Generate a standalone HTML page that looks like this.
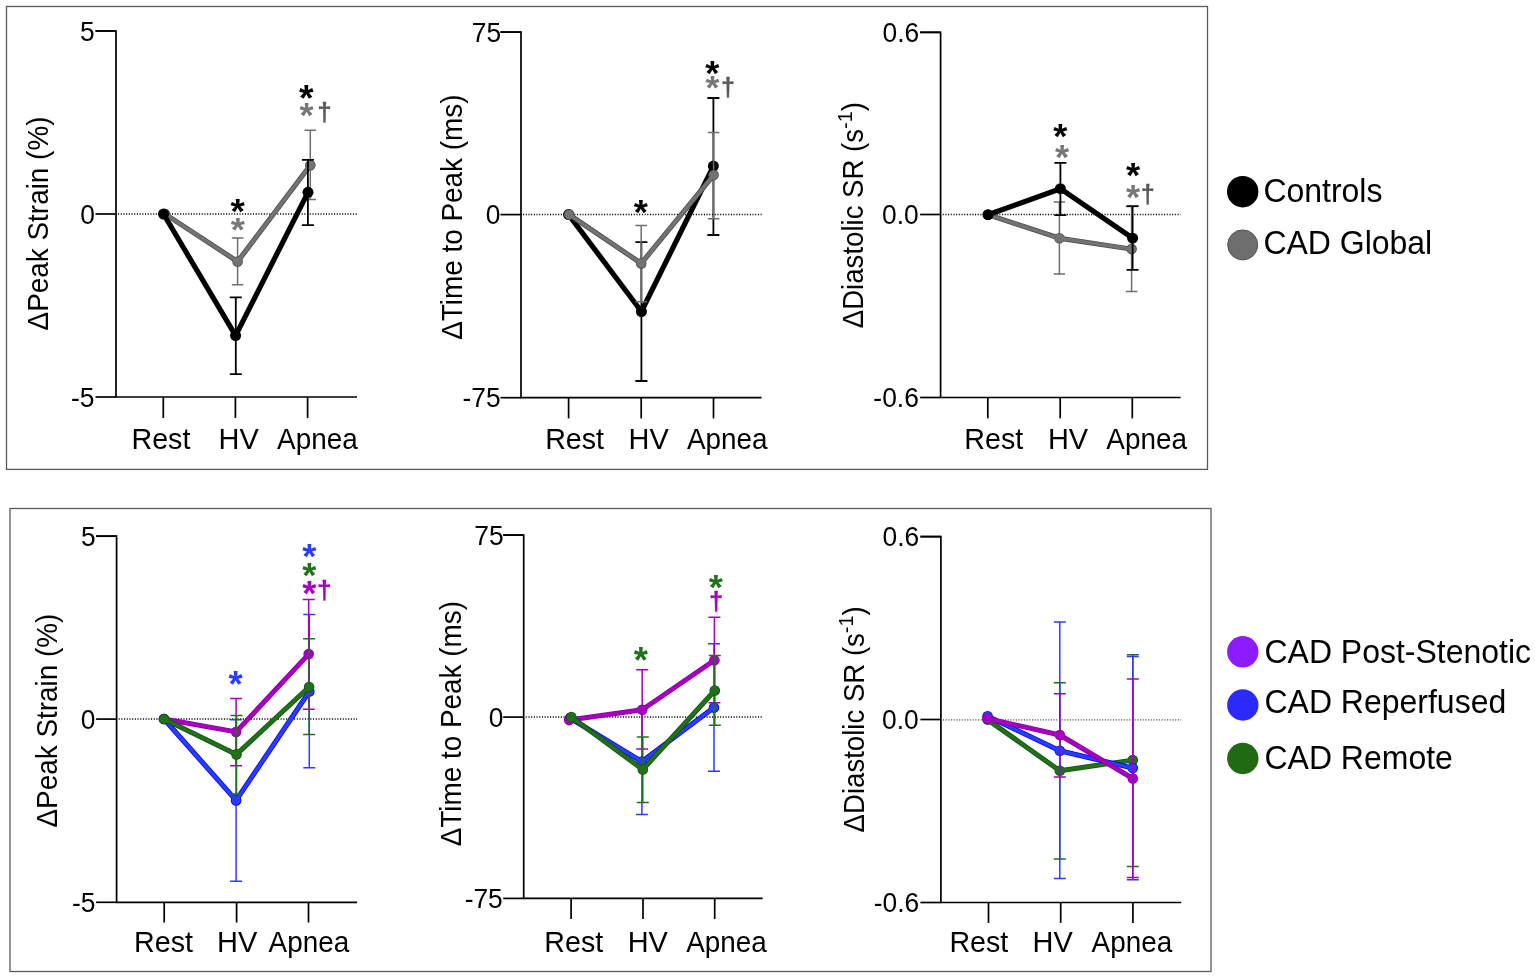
<!DOCTYPE html><html><head><meta charset="utf-8"><title>Figure</title><style>html,body{margin:0;padding:0;background:#fff;}svg{display:block;}text{font-family:"Liberation Sans",Arial,sans-serif;}</style></head><body>
<svg width="1535" height="978" viewBox="0 0 1535 978">
<rect width="1535" height="978" fill="#fff"/>
<rect x="6.5" y="6.5" width="1201" height="462.9" fill="none" stroke="#5a5a5a" stroke-width="1.3"/>
<rect x="10" y="508.5" width="1201" height="463" fill="none" stroke="#5a5a5a" stroke-width="1.3"/>
<path d="M95.50 31.00 H116.00 V397.00 H357.00" fill="none" stroke="#000" stroke-width="1.70"/>
<path d="M95.50 31.00 H116.00" stroke="#000" stroke-width="1.70"/>
<path d="M95.50 214.00 H116.00" stroke="#000" stroke-width="1.70"/>
<path d="M95.50 397.00 H116.00" stroke="#000" stroke-width="1.70"/>
<path d="M163.30 397.00 V418.00" stroke="#000" stroke-width="1.70"/>
<path d="M235.40 397.00 V418.00" stroke="#000" stroke-width="1.70"/>
<path d="M307.60 397.00 V418.00" stroke="#000" stroke-width="1.70"/>
<path d="M118.00 214.00 H357.00" stroke="#000" stroke-width="1.50" stroke-dasharray="1.1 1.6"/>
<text x="0" y="0" transform="translate(79.93 40.55) scale(1 1.030)" font-size="26.40" fill="#000">5</text>
<text x="0" y="0" transform="translate(80.15 223.55) scale(1 1.030)" font-size="26.40" fill="#000">0</text>
<text x="0" y="0" transform="translate(70.93 406.55) scale(1 1.030)" font-size="26.40" fill="#000">-5</text>
<text x="0" y="0" transform="translate(131.46 449.30) scale(1 1.060)" font-size="28.66" fill="#000">Rest</text>
<text x="0" y="0" transform="translate(218.60 449.30) scale(1 1.049)" font-size="28.97" fill="#000">HV</text>
<text x="0" y="0" transform="translate(277.08 449.30) scale(1 1.089)" font-size="27.90" fill="#000">Apnea</text>
<g transform="translate(48.00 330.43) rotate(-90) scale(1 1.040)">
<text x="0" y="0" font-size="27.90" fill="#000"><tspan>ΔPeak Strain (%)</tspan></text>
</g>
<path d="M237.60 238.10 V284.70 M231.85 238.10 h11.50 M231.85 284.70 h11.50" stroke="#6e6e6e" stroke-width="1.50" fill="none"/>
<path d="M310.30 130.30 V199.40 M304.55 130.30 h11.50 M304.55 199.40 h11.50" stroke="#6e6e6e" stroke-width="1.50" fill="none"/>
<path d="M165.00 214.00 L237.60 261.60 L310.30 165.30" stroke="#4a4a4a" stroke-width="5.00" fill="none" stroke-linejoin="round"/>
<circle cx="165.00" cy="214.00" r="5.30" fill="#4a4a4a"/>
<circle cx="237.60" cy="261.60" r="5.30" fill="#4a4a4a"/>
<circle cx="310.30" cy="165.30" r="5.30" fill="#4a4a4a"/>
<path d="M165.00 214.00 L237.60 261.60 L310.30 165.30" stroke="#737373" stroke-width="3.50" fill="none" stroke-linejoin="round"/>
<circle cx="165.00" cy="214.00" r="4.55" fill="#737373"/>
<circle cx="237.60" cy="261.60" r="4.55" fill="#737373"/>
<circle cx="310.30" cy="165.30" r="4.55" fill="#737373"/>
<path d="M235.80 297.40 V374.10 M229.80 297.40 h12.00 M229.80 374.10 h12.00" stroke="#000" stroke-width="1.80" fill="none"/>
<path d="M307.90 159.80 V225.10 M301.90 159.80 h12.00 M301.90 225.10 h12.00" stroke="#000" stroke-width="1.80" fill="none"/>
<path d="M163.50 214.00 L235.60 335.60 L308.00 192.30" stroke="#000" stroke-width="5.20" fill="none" stroke-linejoin="round"/>
<circle cx="163.50" cy="214.00" r="5.50" fill="#000"/>
<circle cx="235.60" cy="335.60" r="5.50" fill="#000"/>
<circle cx="308.00" cy="192.30" r="5.50" fill="#000"/>
<text x="0" y="0" transform="translate(230.59 222.65) scale(1 0.941)" font-size="36.86" font-weight="bold" fill="#000">*</text>
<text x="0" y="0" transform="translate(230.79 240.61) scale(1 0.924)" font-size="36.34" font-weight="bold" fill="#777">*</text>
<text x="0" y="0" transform="translate(299.09 110.65) scale(1 0.978)" font-size="37.38" font-weight="bold" fill="#000">*</text>
<text x="0" y="0" transform="translate(299.39 126.89) scale(1 0.984)" font-size="36.34" font-weight="bold" fill="#777">*</text>
<text x="0" y="0" transform="translate(317.14 120.66) scale(1 0.988)" font-size="26.07" font-weight="bold" fill="#5a5a5a" stroke="#5a5a5a" stroke-width="0.30">†</text>
<path d="M500.50 32.10 H521.00 V397.70 H761.60" fill="none" stroke="#000" stroke-width="1.70"/>
<path d="M500.50 32.10 H521.00" stroke="#000" stroke-width="1.70"/>
<path d="M500.50 214.60 H521.00" stroke="#000" stroke-width="1.70"/>
<path d="M500.50 397.70 H521.00" stroke="#000" stroke-width="1.70"/>
<path d="M568.60 397.70 V418.40" stroke="#000" stroke-width="1.70"/>
<path d="M641.20 397.70 V418.40" stroke="#000" stroke-width="1.70"/>
<path d="M713.50 397.70 V418.40" stroke="#000" stroke-width="1.70"/>
<path d="M523.00 214.60 H761.60" stroke="#000" stroke-width="1.50" stroke-dasharray="1.1 1.6"/>
<text x="0" y="0" transform="translate(471.84 41.65) scale(1 1.030)" font-size="26.40" fill="#000">75</text>
<text x="0" y="0" transform="translate(485.85 224.15) scale(1 1.030)" font-size="26.40" fill="#000">0</text>
<text x="0" y="0" transform="translate(462.55 407.25) scale(1 1.030)" font-size="26.40" fill="#000">-75</text>
<text x="0" y="0" transform="translate(545.16 449.20) scale(1 1.060)" font-size="28.66" fill="#000">Rest</text>
<text x="0" y="0" transform="translate(628.50 449.20) scale(1 1.049)" font-size="28.97" fill="#000">HV</text>
<text x="0" y="0" transform="translate(686.98 449.20) scale(1 1.089)" font-size="27.90" fill="#000">Apnea</text>
<g transform="translate(461.50 339.83) rotate(-90) scale(1 1.040)">
<text x="0" y="0" font-size="27.90" fill="#000"><tspan>ΔTime to Peak (ms)</tspan></text>
</g>
<path d="M641.40 242.10 V381.00 M635.40 242.10 h12.00 M635.40 381.00 h12.00" stroke="#000" stroke-width="1.80" fill="none"/>
<path d="M713.40 98.00 V235.00 M707.40 98.00 h12.00 M707.40 235.00 h12.00" stroke="#000" stroke-width="1.80" fill="none"/>
<path d="M568.60 214.60 L641.40 311.50 L713.40 166.10" stroke="#000" stroke-width="5.20" fill="none" stroke-linejoin="round"/>
<circle cx="568.60" cy="214.60" r="5.50" fill="#000"/>
<circle cx="641.40" cy="311.50" r="5.50" fill="#000"/>
<circle cx="713.40" cy="166.10" r="5.50" fill="#000"/>
<path d="M641.20 225.40 V301.70 M635.45 225.40 h11.50 M635.45 301.70 h11.50" stroke="#6e6e6e" stroke-width="1.50" fill="none"/>
<path d="M713.60 132.40 V218.70 M707.85 132.40 h11.50 M707.85 218.70 h11.50" stroke="#6e6e6e" stroke-width="1.50" fill="none"/>
<path d="M569.20 214.60 L641.20 263.40 L713.60 175.10" stroke="#4a4a4a" stroke-width="5.00" fill="none" stroke-linejoin="round"/>
<circle cx="569.20" cy="214.60" r="5.30" fill="#4a4a4a"/>
<circle cx="641.20" cy="263.40" r="5.30" fill="#4a4a4a"/>
<circle cx="713.60" cy="175.10" r="5.30" fill="#4a4a4a"/>
<path d="M569.20 214.60 L641.20 263.40 L713.60 175.10" stroke="#737373" stroke-width="3.50" fill="none" stroke-linejoin="round"/>
<circle cx="569.20" cy="214.60" r="4.55" fill="#737373"/>
<circle cx="641.20" cy="263.40" r="4.55" fill="#737373"/>
<circle cx="713.60" cy="175.10" r="4.55" fill="#737373"/>
<text x="0" y="0" transform="translate(633.69 223.67) scale(1 0.947)" font-size="36.34" font-weight="bold" fill="#000">*</text>
<text x="0" y="0" transform="translate(705.29 84.85) scale(1 0.954)" font-size="36.34" font-weight="bold" fill="#000">*</text>
<text x="0" y="0" transform="translate(705.50 99.04) scale(1 0.923)" font-size="35.82" font-weight="bold" fill="#777">*</text>
<text x="0" y="0" transform="translate(720.91 95.72) scale(1 0.995)" font-size="25.13" font-weight="bold" fill="#5a5a5a" stroke="#5a5a5a" stroke-width="0.30">†</text>
<path d="M920.10 32.30 H940.60 V397.50 H1180.60" fill="none" stroke="#000" stroke-width="1.70"/>
<path d="M920.10 32.30 H940.60" stroke="#000" stroke-width="1.70"/>
<path d="M920.10 214.50 H940.60" stroke="#000" stroke-width="1.70"/>
<path d="M920.10 397.50 H940.60" stroke="#000" stroke-width="1.70"/>
<path d="M987.80 397.50 V418.40" stroke="#000" stroke-width="1.70"/>
<path d="M1060.20 397.50 V418.40" stroke="#000" stroke-width="1.70"/>
<path d="M1132.30 397.50 V418.40" stroke="#000" stroke-width="1.70"/>
<path d="M942.60 214.50 H1180.60" stroke="#000" stroke-width="1.50" stroke-dasharray="1.1 1.6"/>
<text x="0" y="0" transform="translate(882.46 41.85) scale(1 1.030)" font-size="26.40" fill="#000">0.6</text>
<text x="0" y="0" transform="translate(882.03 224.05) scale(1 1.030)" font-size="26.40" fill="#000">0.0</text>
<text x="0" y="0" transform="translate(873.37 407.05) scale(1 1.030)" font-size="26.40" fill="#000">-0.6</text>
<text x="0" y="0" transform="translate(964.31 448.80) scale(1 1.060)" font-size="28.66" fill="#000">Rest</text>
<text x="0" y="0" transform="translate(1047.90 448.80) scale(1 1.049)" font-size="28.97" fill="#000">HV</text>
<text x="0" y="0" transform="translate(1106.33 448.80) scale(1 1.089)" font-size="27.90" fill="#000">Apnea</text>
<g transform="translate(863.20 328.22) rotate(-90) scale(1 1.040)">
<text x="0" y="0" font-size="27.60" fill="#000"><tspan>ΔDiastolic SR (s</tspan><tspan font-size="19.87" dy="-11.04">-1</tspan><tspan dy="11.04">)</tspan></text>
</g>
<path d="M1059.40 202.00 V274.00 M1053.65 202.00 h11.50 M1053.65 274.00 h11.50" stroke="#6e6e6e" stroke-width="1.50" fill="none"/>
<path d="M1131.60 206.60 V291.60 M1125.85 206.60 h11.50 M1125.85 291.60 h11.50" stroke="#6e6e6e" stroke-width="1.50" fill="none"/>
<path d="M988.00 214.70 L1059.40 238.20 L1131.60 249.10" stroke="#4a4a4a" stroke-width="5.00" fill="none" stroke-linejoin="round"/>
<circle cx="988.00" cy="214.70" r="5.30" fill="#4a4a4a"/>
<circle cx="1059.40" cy="238.20" r="5.30" fill="#4a4a4a"/>
<circle cx="1131.60" cy="249.10" r="5.30" fill="#4a4a4a"/>
<path d="M988.00 214.70 L1059.40 238.20 L1131.60 249.10" stroke="#737373" stroke-width="3.50" fill="none" stroke-linejoin="round"/>
<circle cx="988.00" cy="214.70" r="4.55" fill="#737373"/>
<circle cx="1059.40" cy="238.20" r="4.55" fill="#737373"/>
<circle cx="1131.60" cy="249.10" r="4.55" fill="#737373"/>
<path d="M1060.40 162.80 V215.10 M1054.40 162.80 h12.00 M1054.40 215.10 h12.00" stroke="#000" stroke-width="1.80" fill="none"/>
<path d="M1132.60 206.10 V269.90 M1126.60 206.10 h12.00 M1126.60 269.90 h12.00" stroke="#000" stroke-width="1.80" fill="none"/>
<path d="M988.00 214.70 L1060.40 188.70 L1132.60 238.20" stroke="#000" stroke-width="5.20" fill="none" stroke-linejoin="round"/>
<circle cx="988.00" cy="214.70" r="5.50" fill="#000"/>
<circle cx="1060.40" cy="188.70" r="5.50" fill="#000"/>
<circle cx="1132.60" cy="238.20" r="5.50" fill="#000"/>
<text x="0" y="0" transform="translate(1053.29 148.35) scale(1 0.954)" font-size="36.34" font-weight="bold" fill="#000">*</text>
<text x="0" y="0" transform="translate(1054.89 168.77) scale(1 0.947)" font-size="36.34" font-weight="bold" fill="#777">*</text>
<text x="0" y="0" transform="translate(1125.89 187.17) scale(1 0.947)" font-size="36.34" font-weight="bold" fill="#000">*</text>
<text x="0" y="0" transform="translate(1125.89 208.57) scale(1 0.947)" font-size="36.34" font-weight="bold" fill="#777">*</text>
<text x="0" y="0" transform="translate(1140.71 203.36) scale(1 1.030)" font-size="25.13" font-weight="bold" fill="#5a5a5a" stroke="#5a5a5a" stroke-width="0.30">†</text>
<circle cx="1242.7" cy="191.7" r="15.7" fill="#000"/>
<circle cx="1242.7" cy="244.9" r="15.0" fill="#6e6e6e" stroke="#505050" stroke-width="1"/>
<text x="0" y="0" transform="translate(1263.38 202.20) scale(1 1.040)" font-size="32.00" fill="#000">Controls</text>
<text x="0" y="0" transform="translate(1263.38 253.80) scale(1 1.040)" font-size="32.00" fill="#000">CAD Global</text>
<path d="M96.10 536.20 H116.60 V902.30 H357.10" fill="none" stroke="#000" stroke-width="1.70"/>
<path d="M96.10 536.20 H116.60" stroke="#000" stroke-width="1.70"/>
<path d="M96.10 719.10 H116.60" stroke="#000" stroke-width="1.70"/>
<path d="M96.10 902.30 H116.60" stroke="#000" stroke-width="1.70"/>
<path d="M164.20 902.30 V922.50" stroke="#000" stroke-width="1.70"/>
<path d="M236.60 902.30 V922.50" stroke="#000" stroke-width="1.70"/>
<path d="M308.50 902.30 V922.50" stroke="#000" stroke-width="1.70"/>
<path d="M118.60 719.10 H357.10" stroke="#000" stroke-width="1.50" stroke-dasharray="1.1 1.6"/>
<text x="0" y="0" transform="translate(81.03 545.75) scale(1 1.030)" font-size="26.40" fill="#000">5</text>
<text x="0" y="0" transform="translate(80.85 728.65) scale(1 1.030)" font-size="26.40" fill="#000">0</text>
<text x="0" y="0" transform="translate(72.03 911.85) scale(1 1.030)" font-size="26.40" fill="#000">-5</text>
<text x="0" y="0" transform="translate(134.11 952.30) scale(1 1.060)" font-size="28.66" fill="#000">Rest</text>
<text x="0" y="0" transform="translate(217.00 952.30) scale(1 1.049)" font-size="28.97" fill="#000">HV</text>
<text x="0" y="0" transform="translate(268.53 952.30) scale(1 1.089)" font-size="27.90" fill="#000">Apnea</text>
<g transform="translate(57.20 827.53) rotate(-90) scale(1 1.040)">
<text x="0" y="0" font-size="27.90" fill="#000"><tspan>ΔPeak Strain (%)</tspan></text>
</g>
<path d="M236.10 719.70 V881.20 M230.10 719.70 h12.00 M230.10 881.20 h12.00" stroke="#2a3cff" stroke-width="1.50" fill="none"/>
<path d="M309.30 614.40 V767.70 M303.30 614.40 h12.00 M303.30 767.70 h12.00" stroke="#2a3cff" stroke-width="1.50" fill="none"/>
<path d="M164.00 719.00 L236.10 800.40 L309.30 691.50" stroke="#0000ee" stroke-width="5.00" fill="none" stroke-linejoin="round"/>
<circle cx="164.00" cy="719.00" r="5.30" fill="#0000ee"/>
<circle cx="236.10" cy="800.40" r="5.30" fill="#0000ee"/>
<circle cx="309.30" cy="691.50" r="5.30" fill="#0000ee"/>
<path d="M164.00 719.00 L236.10 800.40 L309.30 691.50" stroke="#2a3cff" stroke-width="3.50" fill="none" stroke-linejoin="round"/>
<circle cx="164.00" cy="719.00" r="4.55" fill="#2a3cff"/>
<circle cx="236.10" cy="800.40" r="4.55" fill="#2a3cff"/>
<circle cx="309.30" cy="691.50" r="4.55" fill="#2a3cff"/>
<path d="M236.10 698.60 V765.70 M230.10 698.60 h12.00 M230.10 765.70 h12.00" stroke="#a600be" stroke-width="1.50" fill="none"/>
<path d="M308.70 599.50 V709.30 M302.70 599.50 h12.00 M302.70 709.30 h12.00" stroke="#a600be" stroke-width="1.50" fill="none"/>
<path d="M164.00 719.00 L236.10 731.90 L308.70 654.10" stroke="#8a00a6" stroke-width="5.00" fill="none" stroke-linejoin="round"/>
<circle cx="164.00" cy="719.00" r="5.30" fill="#8a00a6"/>
<circle cx="236.10" cy="731.90" r="5.30" fill="#8a00a6"/>
<circle cx="308.70" cy="654.10" r="5.30" fill="#8a00a6"/>
<path d="M164.00 719.00 L236.10 731.90 L308.70 654.10" stroke="#a600be" stroke-width="3.50" fill="none" stroke-linejoin="round"/>
<circle cx="164.00" cy="719.00" r="4.55" fill="#a600be"/>
<circle cx="236.10" cy="731.90" r="4.55" fill="#a600be"/>
<circle cx="308.70" cy="654.10" r="4.55" fill="#a600be"/>
<path d="M236.50 715.60 V793.90 M230.50 715.60 h12.00 M230.50 793.90 h12.00" stroke="#21701a" stroke-width="1.50" fill="none"/>
<path d="M309.10 638.80 V734.60 M303.10 638.80 h12.00 M303.10 734.60 h12.00" stroke="#21701a" stroke-width="1.50" fill="none"/>
<path d="M164.00 719.00 L236.50 754.40 L309.10 687.00" stroke="#0f520f" stroke-width="5.00" fill="none" stroke-linejoin="round"/>
<circle cx="164.00" cy="719.00" r="5.30" fill="#0f520f"/>
<circle cx="236.50" cy="754.40" r="5.30" fill="#0f520f"/>
<circle cx="309.10" cy="687.00" r="5.30" fill="#0f520f"/>
<path d="M164.00 719.00 L236.50 754.40 L309.10 687.00" stroke="#21701a" stroke-width="3.50" fill="none" stroke-linejoin="round"/>
<circle cx="164.00" cy="719.00" r="4.55" fill="#21701a"/>
<circle cx="236.50" cy="754.40" r="4.55" fill="#21701a"/>
<circle cx="309.10" cy="687.00" r="4.55" fill="#21701a"/>
<text x="0" y="0" transform="translate(228.39 697.26) scale(1 0.998)" font-size="36.34" font-weight="bold" fill="#2a3cff">*</text>
<text x="0" y="0" transform="translate(302.19 568.35) scale(1 0.954)" font-size="36.34" font-weight="bold" fill="#2a3cff">*</text>
<text x="0" y="0" transform="translate(302.19 586.75) scale(1 0.954)" font-size="36.34" font-weight="bold" fill="#21701a">*</text>
<text x="0" y="0" transform="translate(302.19 605.15) scale(1 0.954)" font-size="36.34" font-weight="bold" fill="#a600be">*</text>
<text x="0" y="0" transform="translate(317.11 598.76) scale(1 0.970)" font-size="26.55" font-weight="bold" fill="#a600be" stroke="#a600be" stroke-width="0.30">†</text>
<path d="M503.20 535.10 H523.70 V898.40 H762.70" fill="none" stroke="#000" stroke-width="1.70"/>
<path d="M503.20 535.10 H523.70" stroke="#000" stroke-width="1.70"/>
<path d="M503.20 717.10 H523.70" stroke="#000" stroke-width="1.70"/>
<path d="M503.20 898.40 H523.70" stroke="#000" stroke-width="1.70"/>
<path d="M571.10 898.40 V919.00" stroke="#000" stroke-width="1.70"/>
<path d="M643.00 898.40 V919.00" stroke="#000" stroke-width="1.70"/>
<path d="M714.70 898.40 V919.00" stroke="#000" stroke-width="1.70"/>
<path d="M525.70 717.10 H762.70" stroke="#000" stroke-width="1.50" stroke-dasharray="1.1 1.6"/>
<text x="0" y="0" transform="translate(474.34 544.65) scale(1 1.030)" font-size="26.40" fill="#000">75</text>
<text x="0" y="0" transform="translate(488.75 726.65) scale(1 1.030)" font-size="26.40" fill="#000">0</text>
<text x="0" y="0" transform="translate(464.65 907.95) scale(1 1.030)" font-size="26.40" fill="#000">-75</text>
<text x="0" y="0" transform="translate(544.31 952.30) scale(1 1.060)" font-size="28.66" fill="#000">Rest</text>
<text x="0" y="0" transform="translate(627.70 952.30) scale(1 1.049)" font-size="28.97" fill="#000">HV</text>
<text x="0" y="0" transform="translate(686.18 952.30) scale(1 1.089)" font-size="27.90" fill="#000">Apnea</text>
<g transform="translate(461.00 846.33) rotate(-90) scale(1 1.040)">
<text x="0" y="0" font-size="27.90" fill="#000"><tspan>ΔTime to Peak (ms)</tspan></text>
</g>
<path d="M641.90 708.60 V814.60 M635.90 708.60 h12.00 M635.90 814.60 h12.00" stroke="#2a3cff" stroke-width="1.50" fill="none"/>
<path d="M714.00 643.80 V771.20 M708.00 643.80 h12.00 M708.00 771.20 h12.00" stroke="#2a3cff" stroke-width="1.50" fill="none"/>
<path d="M570.00 718.00 L641.90 761.60 L714.00 707.60" stroke="#0000ee" stroke-width="5.00" fill="none" stroke-linejoin="round"/>
<circle cx="570.00" cy="718.00" r="5.30" fill="#0000ee"/>
<circle cx="641.90" cy="761.60" r="5.30" fill="#0000ee"/>
<circle cx="714.00" cy="707.60" r="5.30" fill="#0000ee"/>
<path d="M570.00 718.00 L641.90 761.60 L714.00 707.60" stroke="#2a3cff" stroke-width="3.50" fill="none" stroke-linejoin="round"/>
<circle cx="570.00" cy="718.00" r="4.55" fill="#2a3cff"/>
<circle cx="641.90" cy="761.60" r="4.55" fill="#2a3cff"/>
<circle cx="714.00" cy="707.60" r="4.55" fill="#2a3cff"/>
<path d="M642.20 669.80 V749.10 M636.20 669.80 h12.00 M636.20 749.10 h12.00" stroke="#a600be" stroke-width="1.50" fill="none"/>
<path d="M714.40 617.30 V702.70 M708.40 617.30 h12.00 M708.40 702.70 h12.00" stroke="#a600be" stroke-width="1.50" fill="none"/>
<path d="M569.20 720.10 L642.20 709.70 L714.40 660.20" stroke="#8a00a6" stroke-width="5.00" fill="none" stroke-linejoin="round"/>
<circle cx="569.20" cy="720.10" r="5.30" fill="#8a00a6"/>
<circle cx="642.20" cy="709.70" r="5.30" fill="#8a00a6"/>
<circle cx="714.40" cy="660.20" r="5.30" fill="#8a00a6"/>
<path d="M569.20 720.10 L642.20 709.70 L714.40 660.20" stroke="#a600be" stroke-width="3.50" fill="none" stroke-linejoin="round"/>
<circle cx="569.20" cy="720.10" r="4.55" fill="#a600be"/>
<circle cx="642.20" cy="709.70" r="4.55" fill="#a600be"/>
<circle cx="714.40" cy="660.20" r="4.55" fill="#a600be"/>
<path d="M642.80 736.90 V802.40 M636.80 736.90 h12.00 M636.80 802.40 h12.00" stroke="#21701a" stroke-width="1.50" fill="none"/>
<path d="M714.80 655.50 V725.30 M708.80 655.50 h12.00 M708.80 725.30 h12.00" stroke="#21701a" stroke-width="1.50" fill="none"/>
<path d="M571.30 717.10 L642.80 769.50 L714.80 690.50" stroke="#0f520f" stroke-width="5.00" fill="none" stroke-linejoin="round"/>
<circle cx="571.30" cy="717.10" r="5.30" fill="#0f520f"/>
<circle cx="642.80" cy="769.50" r="5.30" fill="#0f520f"/>
<circle cx="714.80" cy="690.50" r="5.30" fill="#0f520f"/>
<path d="M571.30 717.10 L642.80 769.50 L714.80 690.50" stroke="#21701a" stroke-width="3.50" fill="none" stroke-linejoin="round"/>
<circle cx="571.30" cy="717.10" r="4.55" fill="#21701a"/>
<circle cx="642.80" cy="769.50" r="4.55" fill="#21701a"/>
<circle cx="714.80" cy="690.50" r="4.55" fill="#21701a"/>
<text x="0" y="0" transform="translate(633.69 673.46) scale(1 0.998)" font-size="36.34" font-weight="bold" fill="#21701a">*</text>
<text x="0" y="0" transform="translate(708.79 598.61) scale(1 0.976)" font-size="36.34" font-weight="bold" fill="#21701a">*</text>
<text x="0" y="0" transform="translate(709.07 609.82) scale(1 0.977)" font-size="25.60" font-weight="bold" fill="#a600be" stroke="#a600be" stroke-width="0.30">†</text>
<path d="M920.40 536.60 H940.90 V902.50 H1181.20" fill="none" stroke="#000" stroke-width="1.70"/>
<path d="M920.40 536.60 H940.90" stroke="#000" stroke-width="1.70"/>
<path d="M920.40 719.50 H940.90" stroke="#000" stroke-width="1.70"/>
<path d="M920.40 902.50 H940.90" stroke="#000" stroke-width="1.70"/>
<path d="M988.50 902.50 V922.90" stroke="#000" stroke-width="1.70"/>
<path d="M1060.70 902.50 V922.90" stroke="#000" stroke-width="1.70"/>
<path d="M1132.90 902.50 V922.90" stroke="#000" stroke-width="1.70"/>
<path d="M942.90 719.80 H1181.20" stroke="#7a7a7a" stroke-width="1.80" stroke-dasharray="1.1 1.6"/>
<text x="0" y="0" transform="translate(882.56 546.15) scale(1 1.030)" font-size="26.40" fill="#000">0.6</text>
<text x="0" y="0" transform="translate(882.03 728.95) scale(1 1.030)" font-size="26.40" fill="#000">0.0</text>
<text x="0" y="0" transform="translate(873.67 912.05) scale(1 1.030)" font-size="26.40" fill="#000">-0.6</text>
<text x="0" y="0" transform="translate(949.41 951.60) scale(1 1.060)" font-size="28.66" fill="#000">Rest</text>
<text x="0" y="0" transform="translate(1032.55 951.60) scale(1 1.049)" font-size="28.97" fill="#000">HV</text>
<text x="0" y="0" transform="translate(1091.53 951.60) scale(1 1.089)" font-size="27.90" fill="#000">Apnea</text>
<g transform="translate(864.00 832.42) rotate(-90) scale(1 1.040)">
<text x="0" y="0" font-size="27.60" fill="#000"><tspan>ΔDiastolic SR (s</tspan><tspan font-size="19.87" dy="-11.04">-1</tspan><tspan dy="11.04">)</tspan></text>
</g>
<path d="M1059.80 682.80 V859.10 M1053.80 682.80 h12.00 M1053.80 859.10 h12.00" stroke="#21701a" stroke-width="1.50" fill="none"/>
<path d="M1132.80 654.80 V866.40 M1126.80 654.80 h12.00 M1126.80 866.40 h12.00" stroke="#21701a" stroke-width="1.50" fill="none"/>
<path d="M987.60 719.60 L1059.80 770.80 L1132.80 760.10" stroke="#0f520f" stroke-width="5.00" fill="none" stroke-linejoin="round"/>
<circle cx="987.60" cy="719.60" r="5.30" fill="#0f520f"/>
<circle cx="1059.80" cy="770.80" r="5.30" fill="#0f520f"/>
<circle cx="1132.80" cy="760.10" r="5.30" fill="#0f520f"/>
<path d="M987.60 719.60 L1059.80 770.80 L1132.80 760.10" stroke="#21701a" stroke-width="3.50" fill="none" stroke-linejoin="round"/>
<circle cx="987.60" cy="719.60" r="4.55" fill="#21701a"/>
<circle cx="1059.80" cy="770.80" r="4.55" fill="#21701a"/>
<circle cx="1132.80" cy="760.10" r="4.55" fill="#21701a"/>
<path d="M1059.80 621.90 V878.60 M1053.80 621.90 h12.00 M1053.80 878.60 h12.00" stroke="#2a3cff" stroke-width="1.50" fill="none"/>
<path d="M1132.80 656.60 V879.70 M1126.80 656.60 h12.00 M1126.80 879.70 h12.00" stroke="#2a3cff" stroke-width="1.50" fill="none"/>
<path d="M987.60 716.20 L1059.80 750.70 L1132.80 768.10" stroke="#0000ee" stroke-width="5.00" fill="none" stroke-linejoin="round"/>
<circle cx="987.60" cy="716.20" r="5.30" fill="#0000ee"/>
<circle cx="1059.80" cy="750.70" r="5.30" fill="#0000ee"/>
<circle cx="1132.80" cy="768.10" r="5.30" fill="#0000ee"/>
<path d="M987.60 716.20 L1059.80 750.70 L1132.80 768.10" stroke="#2a3cff" stroke-width="3.50" fill="none" stroke-linejoin="round"/>
<circle cx="987.60" cy="716.20" r="4.55" fill="#2a3cff"/>
<circle cx="1059.80" cy="750.70" r="4.55" fill="#2a3cff"/>
<circle cx="1132.80" cy="768.10" r="4.55" fill="#2a3cff"/>
<path d="M1059.80 693.70 V776.90 M1053.80 693.70 h12.00 M1053.80 776.90 h12.00" stroke="#a600be" stroke-width="1.50" fill="none"/>
<path d="M1132.80 678.90 V877.50 M1126.80 678.90 h12.00 M1126.80 877.50 h12.00" stroke="#a600be" stroke-width="1.50" fill="none"/>
<path d="M987.60 718.60 L1059.80 735.00 L1132.80 778.50" stroke="#8a00a6" stroke-width="5.00" fill="none" stroke-linejoin="round"/>
<circle cx="987.60" cy="718.60" r="5.30" fill="#8a00a6"/>
<circle cx="1059.80" cy="735.00" r="5.30" fill="#8a00a6"/>
<circle cx="1132.80" cy="778.50" r="5.30" fill="#8a00a6"/>
<path d="M987.60 718.60 L1059.80 735.00 L1132.80 778.50" stroke="#a600be" stroke-width="3.50" fill="none" stroke-linejoin="round"/>
<circle cx="987.60" cy="718.60" r="4.55" fill="#a600be"/>
<circle cx="1059.80" cy="735.00" r="4.55" fill="#a600be"/>
<circle cx="1132.80" cy="778.50" r="4.55" fill="#a600be"/>
<circle cx="1242.8" cy="651.8" r="15.7" fill="#8c1cff"/>
<circle cx="1242.8" cy="705.0" r="15.7" fill="#2a2aff"/>
<circle cx="1242.8" cy="758.5" r="15.7" fill="#1f6a13"/>
<text x="0" y="0" transform="translate(1264.47 662.70) scale(1 1.040)" font-size="32.00" fill="#000">CAD Post-Stenotic</text>
<text x="0" y="0" transform="translate(1264.47 713.40) scale(1 1.040)" font-size="32.00" fill="#000">CAD Reperfused</text>
<text x="0" y="0" transform="translate(1264.47 769.00) scale(1 1.040)" font-size="32.00" fill="#000">CAD Remote</text>
</svg></body></html>
